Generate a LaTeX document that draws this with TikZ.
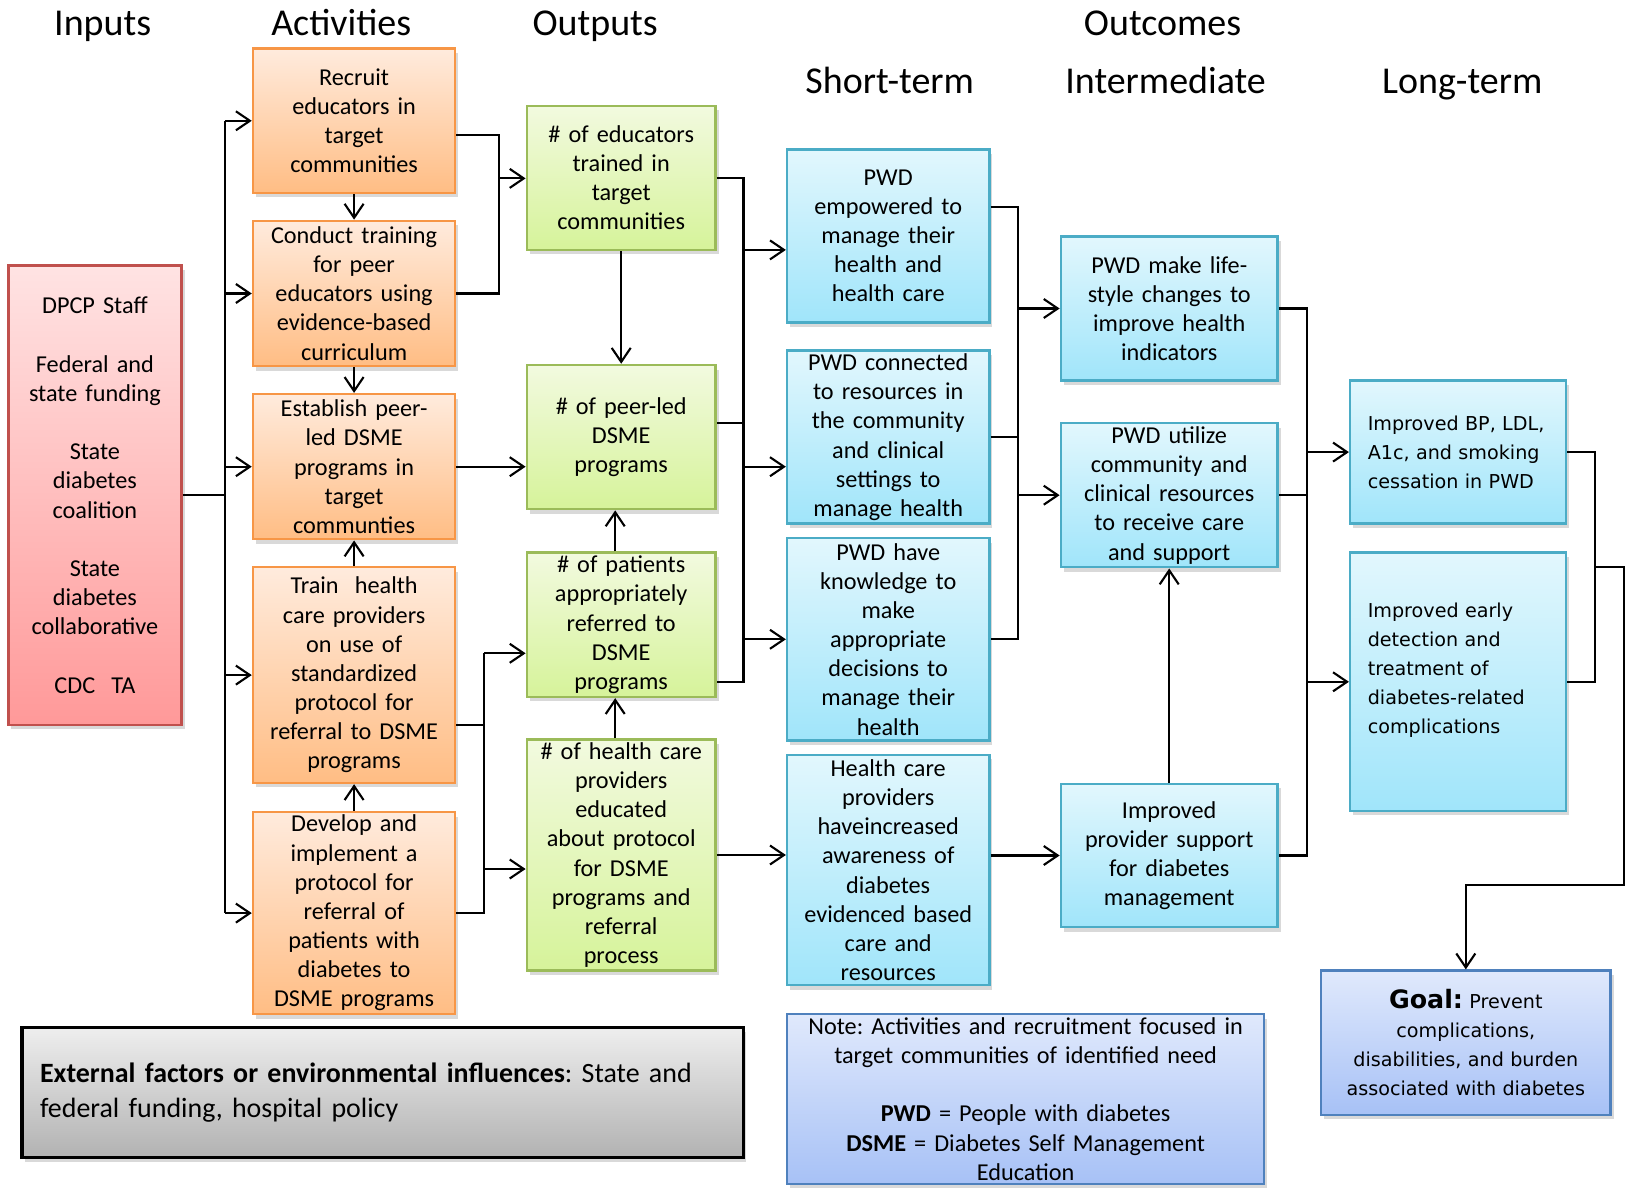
\documentclass[tikz,border=0pt]{standalone}
\usepackage{fontspec}
\setmainfont{Carlito}
\newfontfamily\verdanalike{DejaVu Sans}
\usetikzlibrary{arrows.meta,shadows}
\frenchspacing
\definecolor{actline}{HTML}{F79646}
\definecolor{acttop}{HTML}{FFEBDD}
\definecolor{actbot}{HTML}{FFBD84}
\definecolor{outpline}{HTML}{9BBB59}
\definecolor{outptop}{HTML}{F2FADF}
\definecolor{outpbot}{HTML}{D6F39A}
\definecolor{outcline}{HTML}{4BACC6}
\definecolor{outctop}{HTML}{E2F7FD}
\definecolor{outcbot}{HTML}{A0E5FA}
\definecolor{inpline}{HTML}{C0504D}
\definecolor{inptop}{HTML}{FFE3E3}
\definecolor{inpbot}{HTML}{FF9999}
\definecolor{goalline}{HTML}{4F81BD}
\definecolor{goaltop}{HTML}{E0E9FC}
\definecolor{goalbot}{HTML}{A7C1F6}
\definecolor{exttop}{HTML}{EEEEEE}
\definecolor{extbot}{HTML}{B2B2B2}
\newcommand{\bodyfont}{\fontsize{6.9}{8.3}\selectfont}
\newcommand{\headfont}{\fontsize{10.8}{13}\selectfont}
\newcommand{\extfont}{\fontsize{7.95}{9.8}\selectfont}
\newcommand{\widebody}{\verdanalike\fontsize{5.45}{8.3}\selectfont}

\begin{document}
\begin{tikzpicture}[every node/.style={font=\bodyfont},
    box/.style={draw, line width=0.7pt, inner sep=0pt, align=center,
      drop shadow={shadow xshift=0.3mm, shadow yshift=-0.45mm, opacity=0.3}},
    inbox/.style={box, draw=inpline, top color=inptop, bottom color=inpbot, minimum width=1.732cm, text width=1.6cm},
    actbox/.style={box, draw=actline, top color=acttop, bottom color=actbot, minimum width=2.022cm, text width=1.95cm},
    outbox/.style={box, draw=outpline, top color=outptop, bottom color=outpbot, minimum width=1.887cm, text width=1.8cm},
    stbox/.style={box, draw=outcline, top color=outctop, bottom color=outcbot, minimum width=2.022cm, text width=1.95cm},
    midbox/.style={stbox, minimum width=2.167cm, text width=2.1cm},
    ltbox/.style={stbox, minimum width=2.157cm, text width=1.805cm, align=left, font=\widebody},
    goalbox/.style={box, draw=goalline, top color=goaltop, bottom color=goalbot},
    extbox/.style={box, draw=black, line width=1pt, top color=exttop, bottom color=extbot, minimum width=7.217cm, minimum height=1.296cm, text width=6.85cm, align=left, font=\extfont},
    head/.style={font=\headfont, anchor=base},
    conn/.style={line width=0.6pt},
    arr/.style={conn, -{Straight Barb[length=1.4mm,width=1.9mm]}}]
  \useasboundingbox (0,0) rectangle (16.26,-11.87);

  % column titles
  \node[head] (hIn) at (1.027,-0.357) {Inputs};
  \node[head] (hAct) at (3.412,-0.357) {Activities};
  \node[head] (hOutp) at (5.952,-0.357) {Outputs};
  \node[head] (hOutc) at (11.625,-0.357) {Outcomes};
  \node[head] (hShort) at (8.897,-0.938) {Short-term};
  \node[head] (hMid) at (11.656,-0.938) {Intermediate};
  \node[head] (hLong) at (14.622,-0.938) {Long-term};

  \node[inbox, minimum height=4.594cm] (In) at (0.949,-4.952) {DPCP Staff\\[8.3pt]Federal and\\state funding\\[8.3pt]State\\diabetes\\coalition\\[8.3pt]State\\diabetes\\collaborative\\[8.3pt]CDC~ TA};

  \node[actbox, minimum height=1.442cm] (A1) at (3.541,-1.208) {Recruit\\educators in\\target\\communities};
  \node[actbox, minimum height=1.452cm] (A2) at (3.541,-2.935) {Conduct training\\for peer\\educators using\\evidence-based\\curriculum};
  \node[actbox, minimum height=1.451cm] (A3) at (3.541,-4.667) {Establish peer-\\led DSME\\programs in\\target\\communties};
  \node[actbox, minimum height=2.157cm] (A4) at (3.541,-6.751) {Train~ health\\care providers\\on use of\\standardized\\protocol for\\referral to DSME\\programs};
  \node[actbox, minimum height=2.022cm] (A5) at (3.541,-9.131) {Develop and\\implement a\\protocol for\\referral of\\patients with\\diabetes to\\DSME programs};

  \node[outbox, minimum height=1.441cm] (O1) at (6.212,-1.778) {\# of educators\\trained in\\target\\communities};
  \node[outbox, minimum height=1.442cm] (O2) at (6.212,-4.371) {\# of peer-led\\DSME\\programs};
  \node[outbox, minimum height=1.442cm] (O3) at (6.212,-6.248) {\# of patients\\appropriately\\referred to\\DSME\\programs};
  \node[outbox, minimum height=2.312cm] (O4) at (6.212,-8.550) {\# of health care\\providers\\educated\\about protocol\\for DSME\\programs and\\referral\\process};

  \node[stbox, minimum height=1.732cm] (S1) at (8.882,-2.359) {PWD\\empowered to\\manage their\\health and\\health care};
  \node[stbox, minimum height=1.732cm] (S2) at (8.882,-4.371) {PWD connected\\to resources in\\the community\\and clinical\\settings to\\manage health};
  \node[stbox, minimum height=2.022cm] (S3) at (8.882,-6.393) {PWD have\\knowledge to\\make\\appropriate\\decisions to\\manage their\\health};
  \node[stbox, minimum height=2.303cm] (S4) at (8.882,-8.701) {Health care\\providers\\haveincreased\\awareness of\\diabetes\\evidenced based\\care and\\resources};

  \node[midbox, minimum height=1.442cm] (I1) at (11.692,-3.085) {PWD make life-\\style changes to\\improve health\\indicators};
  \node[midbox, minimum height=1.441cm] (I2) at (11.692,-4.952) {PWD utilize\\community and\\clinical resources\\to receive care\\and support};
  \node[midbox, minimum height=1.431cm] (I3) at (11.692,-8.555) {Improved\\provider support\\for diabetes\\management};

  \node[ltbox, minimum height=1.431cm] (L1) at (14.580,-4.521) {Improved BP, LDL,\\A1c, and smoking\\cessation in PWD};
  \node[ltbox, minimum height=2.582cm, text depth=41pt] (L2) at (14.580,-6.818) {Improved early\\detection and\\treatment of\\diabetes-related\\complications};

  \node[goalbox, minimum width=2.894cm, minimum height=1.442cm, text width=2.8cm, font=\widebody] (Goal) at (14.658,-10.427) {{\fontsize{7.2}{8.3}\selectfont\bfseries Goal:} Prevent\\complications,\\disabilities, and burden\\associated with diabetes};
  \node[extbox] (Ext) at (3.826,-10.925) {\textbf{External factors or environmental influences}: State and\\federal funding, hospital policy};
  \node[goalbox, minimum width=4.77cm, minimum height=1.70cm, text width=4.6cm] (Note) at (10.256,-10.99) {Note: Activities and recruitment focused in\\target communities of identified need\\[8.3pt]\textbf{PWD} = People with diabetes\\\textbf{DSME} = Diabetes Self Management\\Education};

  % inputs to activities
  \draw[conn] (In.east) -- ++(0.425,0) coordinate (b1);
  \draw[conn] (b1 |- A1.west) -- (b1 |- A5.west);
  \draw[arr] (b1 |- A1.west) -- (A1.west);
  \draw[arr] (b1 |- A2.west) -- (A2.west);
  \draw[arr] (b1 |- A3.west) -- (A3.west);
  \draw[arr] (b1 |- A4.west) -- (A4.west);
  \draw[arr] (b1 |- A5.west) -- (A5.west);
  \draw[arr] (A1.south) -- (A2.north);
  \draw[arr] (A2.south) -- (A3.north);
  \draw[arr] (A4.north) -- (A3.south);
  \draw[arr] (A5.north) -- (A4.south);

  % activities to outputs
  \coordinate (j1) at (4.988,-1.784);
  \draw[conn] ([yshift=-0.14cm]A1.east) -| (j1);
  \draw[conn] (A2.east) -| (j1);
  \draw[arr] (j1) -- (j1 -| O1.west);
  \draw[arr] (A3.east) -- (A3.east -| O2.west);
  \coordinate (j2) at (4.843,-6.533);
  \coordinate (j3) at (4.843,-8.69);
  \draw[conn] ([yshift=-0.5cm]A4.east) -- ([yshift=-0.5cm]A4.east -| j2);
  \draw[conn] (A5.east) -| (j2);
  \draw[arr] (j2) -- (j2 -| O3.west);
  \draw[arr] (j3) -- (j3 -| O4.west);
  \draw[arr] (O1.south) -- (O2.north);
  \draw[arr] ([xshift=-0.06cm]O3.north) -- ([xshift=-0.06cm]O2.south);
  \draw[arr] ([xshift=-0.06cm]O4.north) -- ([xshift=-0.06cm]O3.south);

  % outputs to short-term
  \coordinate (b3) at (7.435,0);
  \coordinate (o3r) at ([yshift=-0.575cm]O3.east);
  \draw[conn] (O1.east) -| (b3 |- o3r) -- (o3r);
  \draw[conn] ([yshift=0.14cm]O2.east) -- ([yshift=0.14cm]O2.east -| b3);
  \draw[arr] ([yshift=-0.14cm]S1.west -| b3) -- ([yshift=-0.14cm]S1.west);
  \draw[arr] ([yshift=-0.296cm]S2.west -| b3) -- ([yshift=-0.296cm]S2.west);
  \draw[arr] (S3.west -| b3) -- (S3.west);
  \draw[arr] (O4.east) -- (O4.east -| S4.west);

  % short-term to intermediate
  \coordinate (b4) at (10.183,0);
  \draw[conn] ([yshift=0.285cm]S1.east) -| (b4 |- S3.east) -- (S3.east);
  \draw[conn] (S2.east) -- (S2.east -| b4);
  \draw[arr] (b4 |- I1.west) -- (I1.west);
  \draw[arr] (b4 |- I2.west) -- (I2.west);
  \draw[arr] (I3.west -| S4.east) -- (I3.west);
  \draw[arr] (I3.north) -- (I2.south);

  % intermediate to long-term
  \coordinate (b5) at (13.066,0);
  \draw[conn] (I1.east) -| (b5 |- I3.east) -- (I3.east);
  \draw[conn] (I2.east) -- (I2.east -| b5);
  \draw[arr] (b5 |- L1.west) -- (L1.west);
  \draw[arr] (b5 |- L2.west) -- (L2.west);

  % long-term to goal
  \coordinate (b6) at (15.949,0);
  \draw[conn] (L1.east) -| (b6 |- L2.east) -- (L2.east);
  \coordinate (j6) at (15.949,-5.672);
  \coordinate (k6) at (16.239,-8.846);
  \draw[arr] (j6) -| (k6) -| (Goal.north);
\end{tikzpicture}
\end{document}
